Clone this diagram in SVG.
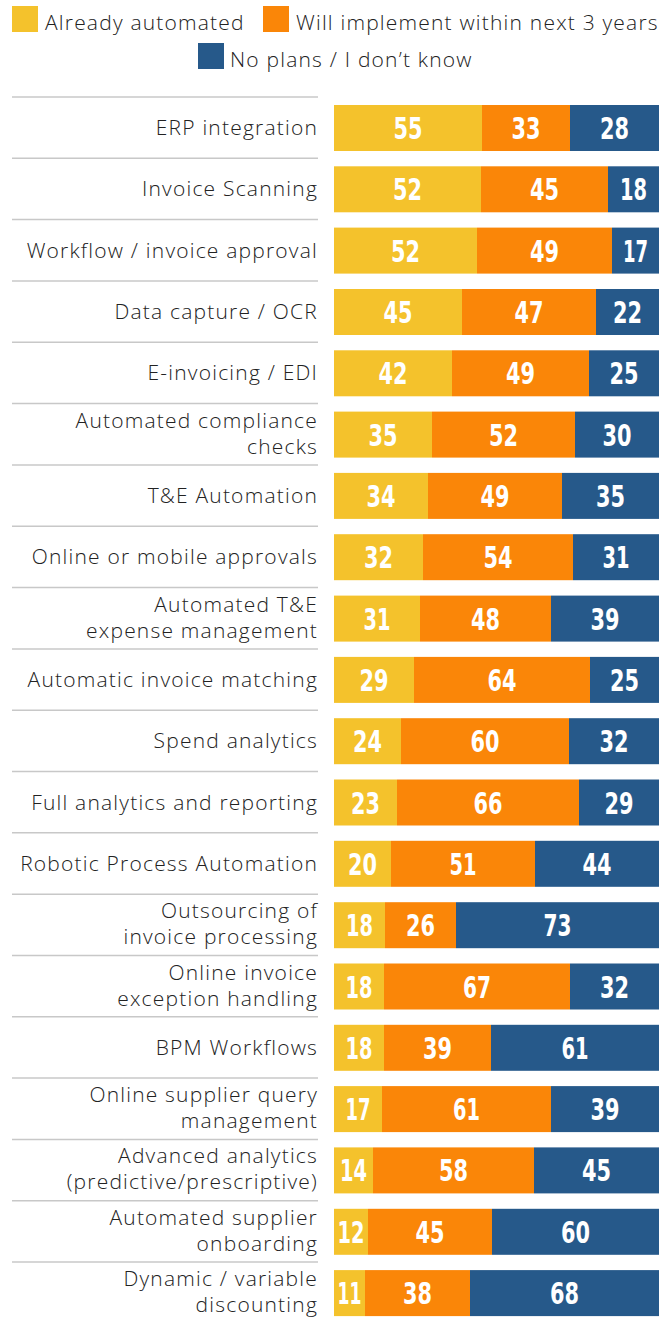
<svg xmlns="http://www.w3.org/2000/svg" width="670" height="1319" viewBox="0 0 670 1319">
<style>
.bg{fill:#ffffff}
.y{fill:#F4C22C}
.o{fill:#FA8608}
.b{fill:#26598A}
.sep{stroke:#C8C8C8;stroke-width:1.5;fill:none}
.lbl{font-family:"Open Sans","Noto Sans",sans-serif;font-size:21px;font-weight:300;letter-spacing:1.2px;fill:#222222;text-anchor:end}
.leg{font-family:"Open Sans","Noto Sans",sans-serif;font-size:21px;font-weight:300;letter-spacing:1.2px;fill:#222222}
.num{font-family:"DejaVu Sans Condensed","Liberation Sans Narrow",sans-serif;font-stretch:condensed;font-size:30px;font-weight:bold;fill:#ffffff;text-anchor:middle}
</style>
<rect class="bg" x="0" y="0" width="670" height="1319"/>
<g id="legend">
<rect class="y" x="12" y="6" width="26" height="26"/>
<text class="leg" x="45" y="30">Already automated</text>
<rect class="o" x="263" y="6" width="26" height="26"/>
<text class="leg" x="296" y="30">Will implement within next 3 years</text>
<rect class="b" x="198" y="43" width="26" height="26"/>
<text class="leg" x="230" y="67">No plans / I don’t know</text>
</g>
<g id="separators">
<line class="sep" x1="12" x2="318" y1="97" y2="97"/>
<line class="sep" x1="12" x2="318" y1="158.3" y2="158.3"/>
<line class="sep" x1="12" x2="318" y1="219.6" y2="219.6"/>
<line class="sep" x1="12" x2="318" y1="281" y2="281"/>
<line class="sep" x1="12" x2="318" y1="342.3" y2="342.3"/>
<line class="sep" x1="12" x2="318" y1="403.6" y2="403.6"/>
<line class="sep" x1="12" x2="318" y1="464.9" y2="464.9"/>
<line class="sep" x1="12" x2="318" y1="526.2" y2="526.2"/>
<line class="sep" x1="12" x2="318" y1="587.6" y2="587.6"/>
<line class="sep" x1="12" x2="318" y1="648.9" y2="648.9"/>
<line class="sep" x1="12" x2="318" y1="710.2" y2="710.2"/>
<line class="sep" x1="12" x2="318" y1="771.5" y2="771.5"/>
<line class="sep" x1="12" x2="318" y1="832.8" y2="832.8"/>
<line class="sep" x1="12" x2="318" y1="894.2" y2="894.2"/>
<line class="sep" x1="12" x2="318" y1="955.5" y2="955.5"/>
<line class="sep" x1="12" x2="318" y1="1016.8" y2="1016.8"/>
<line class="sep" x1="12" x2="318" y1="1078.1" y2="1078.1"/>
<line class="sep" x1="12" x2="318" y1="1139.4" y2="1139.4"/>
<line class="sep" x1="12" x2="318" y1="1200.8" y2="1200.8"/>
<line class="sep" x1="12" x2="318" y1="1262.1" y2="1262.1"/>
</g>
<g id="row1" transform="translate(0,105)">
<text class="lbl" x="318" y="30">ERP integration</text>
<rect class="y" x="334" y="0" width="148" height="46"/><rect class="o" x="482" y="0" width="88" height="46"/><rect class="b" x="570" y="0" width="89" height="46"/>
<text class="num" x="408" y="34" textLength="29" lengthAdjust="spacingAndGlyphs">55</text><text class="num" x="526" y="34" textLength="29" lengthAdjust="spacingAndGlyphs">33</text><text class="num" x="614.5" y="34" textLength="29" lengthAdjust="spacingAndGlyphs">28</text>
</g>
<g id="row2" transform="translate(0,166.3)">
<text class="lbl" x="318" y="30">Invoice Scanning</text>
<rect class="y" x="334" y="0" width="147" height="46"/><rect class="o" x="481" y="0" width="127" height="46"/><rect class="b" x="608" y="0" width="51" height="46"/>
<text class="num" x="407.5" y="34" textLength="29" lengthAdjust="spacingAndGlyphs">52</text><text class="num" x="544.5" y="34" textLength="29" lengthAdjust="spacingAndGlyphs">45</text><text class="num" x="633.5" y="34" textLength="27" lengthAdjust="spacingAndGlyphs">18</text>
</g>
<g id="row3" transform="translate(0,227.6)">
<text class="lbl" x="318" y="30">Workflow / invoice approval</text>
<rect class="y" x="334" y="0" width="143" height="46"/><rect class="o" x="477" y="0" width="135" height="46"/><rect class="b" x="612" y="0" width="47" height="46"/>
<text class="num" x="405.5" y="34" textLength="29" lengthAdjust="spacingAndGlyphs">52</text><text class="num" x="544.5" y="34" textLength="29" lengthAdjust="spacingAndGlyphs">49</text><text class="num" x="635.5" y="34" textLength="25" lengthAdjust="spacingAndGlyphs">17</text>
</g>
<g id="row4" transform="translate(0,289)">
<text class="lbl" x="318" y="30">Data capture / OCR</text>
<rect class="y" x="334" y="0" width="128" height="46"/><rect class="o" x="462" y="0" width="134" height="46"/><rect class="b" x="596" y="0" width="63" height="46"/>
<text class="num" x="398" y="34" textLength="29" lengthAdjust="spacingAndGlyphs">45</text><text class="num" x="529" y="34" textLength="29" lengthAdjust="spacingAndGlyphs">47</text><text class="num" x="627.5" y="34" textLength="29" lengthAdjust="spacingAndGlyphs">22</text>
</g>
<g id="row5" transform="translate(0,350.3)">
<text class="lbl" x="318" y="30">E-invoicing / EDI</text>
<rect class="y" x="334" y="0" width="118" height="46"/><rect class="o" x="452" y="0" width="137" height="46"/><rect class="b" x="589" y="0" width="70" height="46"/>
<text class="num" x="393" y="34" textLength="29" lengthAdjust="spacingAndGlyphs">42</text><text class="num" x="520.5" y="34" textLength="29" lengthAdjust="spacingAndGlyphs">49</text><text class="num" x="624" y="34" textLength="29" lengthAdjust="spacingAndGlyphs">25</text>
</g>
<g id="row6" transform="translate(0,411.6)">
<text class="lbl" x="318" y="16">Automated compliance</text><text class="lbl" x="318" y="42">checks</text>
<rect class="y" x="334" y="0" width="98" height="46"/><rect class="o" x="432" y="0" width="143" height="46"/><rect class="b" x="575" y="0" width="84" height="46"/>
<text class="num" x="383" y="34" textLength="29" lengthAdjust="spacingAndGlyphs">35</text><text class="num" x="503.5" y="34" textLength="29" lengthAdjust="spacingAndGlyphs">52</text><text class="num" x="617" y="34" textLength="29" lengthAdjust="spacingAndGlyphs">30</text>
</g>
<g id="row7" transform="translate(0,472.9)">
<text class="lbl" x="318" y="30">T&amp;E Automation</text>
<rect class="y" x="334" y="0" width="94" height="46"/><rect class="o" x="428" y="0" width="134" height="46"/><rect class="b" x="562" y="0" width="97" height="46"/>
<text class="num" x="381" y="34" textLength="29" lengthAdjust="spacingAndGlyphs">34</text><text class="num" x="495" y="34" textLength="29" lengthAdjust="spacingAndGlyphs">49</text><text class="num" x="610.5" y="34" textLength="29" lengthAdjust="spacingAndGlyphs">35</text>
</g>
<g id="row8" transform="translate(0,534.2)">
<text class="lbl" x="318" y="30">Online or mobile approvals</text>
<rect class="y" x="334" y="0" width="89" height="46"/><rect class="o" x="423" y="0" width="150" height="46"/><rect class="b" x="573" y="0" width="86" height="46"/>
<text class="num" x="378.5" y="34" textLength="29" lengthAdjust="spacingAndGlyphs">32</text><text class="num" x="498" y="34" textLength="29" lengthAdjust="spacingAndGlyphs">54</text><text class="num" x="616" y="34" textLength="27" lengthAdjust="spacingAndGlyphs">31</text>
</g>
<g id="row9" transform="translate(0,595.6)">
<text class="lbl" x="318" y="16">Automated T&amp;E</text><text class="lbl" x="318" y="42">expense management</text>
<rect class="y" x="334" y="0" width="86" height="46"/><rect class="o" x="420" y="0" width="131" height="46"/><rect class="b" x="551" y="0" width="108" height="46"/>
<text class="num" x="377" y="34" textLength="27" lengthAdjust="spacingAndGlyphs">31</text><text class="num" x="485.5" y="34" textLength="29" lengthAdjust="spacingAndGlyphs">48</text><text class="num" x="605" y="34" textLength="29" lengthAdjust="spacingAndGlyphs">39</text>
</g>
<g id="row10" transform="translate(0,656.9)">
<text class="lbl" x="318" y="30">Automatic invoice matching</text>
<rect class="y" x="334" y="0" width="80" height="46"/><rect class="o" x="414" y="0" width="176" height="46"/><rect class="b" x="590" y="0" width="69" height="46"/>
<text class="num" x="374" y="34" textLength="29" lengthAdjust="spacingAndGlyphs">29</text><text class="num" x="502" y="34" textLength="29" lengthAdjust="spacingAndGlyphs">64</text><text class="num" x="624.5" y="34" textLength="29" lengthAdjust="spacingAndGlyphs">25</text>
</g>
<g id="row11" transform="translate(0,718.2)">
<text class="lbl" x="318" y="30">Spend analytics</text>
<rect class="y" x="334" y="0" width="67" height="46"/><rect class="o" x="401" y="0" width="168" height="46"/><rect class="b" x="569" y="0" width="90" height="46"/>
<text class="num" x="367.5" y="34" textLength="29" lengthAdjust="spacingAndGlyphs">24</text><text class="num" x="485" y="34" textLength="29" lengthAdjust="spacingAndGlyphs">60</text><text class="num" x="614" y="34" textLength="29" lengthAdjust="spacingAndGlyphs">32</text>
</g>
<g id="row12" transform="translate(0,779.5)">
<text class="lbl" x="318" y="30">Full analytics and reporting</text>
<rect class="y" x="334" y="0" width="63" height="46"/><rect class="o" x="397" y="0" width="182" height="46"/><rect class="b" x="579" y="0" width="80" height="46"/>
<text class="num" x="365.5" y="34" textLength="29" lengthAdjust="spacingAndGlyphs">23</text><text class="num" x="488" y="34" textLength="29" lengthAdjust="spacingAndGlyphs">66</text><text class="num" x="619" y="34" textLength="29" lengthAdjust="spacingAndGlyphs">29</text>
</g>
<g id="row13" transform="translate(0,840.8)">
<text class="lbl" x="318" y="30">Robotic Process Automation</text>
<rect class="y" x="334" y="0" width="57" height="46"/><rect class="o" x="391" y="0" width="144" height="46"/><rect class="b" x="535" y="0" width="124" height="46"/>
<text class="num" x="362.5" y="34" textLength="29" lengthAdjust="spacingAndGlyphs">20</text><text class="num" x="463" y="34" textLength="27" lengthAdjust="spacingAndGlyphs">51</text><text class="num" x="597" y="34" textLength="29" lengthAdjust="spacingAndGlyphs">44</text>
</g>
<g id="row14" transform="translate(0,902.2)">
<text class="lbl" x="318" y="16">Outsourcing of</text><text class="lbl" x="318" y="42">invoice processing</text>
<rect class="y" x="334" y="0" width="51" height="46"/><rect class="o" x="385" y="0" width="71" height="46"/><rect class="b" x="456" y="0" width="203" height="46"/>
<text class="num" x="359.5" y="34" textLength="27" lengthAdjust="spacingAndGlyphs">18</text><text class="num" x="420.5" y="34" textLength="29" lengthAdjust="spacingAndGlyphs">26</text><text class="num" x="557.5" y="34" textLength="28" lengthAdjust="spacingAndGlyphs">73</text>
</g>
<g id="row15" transform="translate(0,963.5)">
<text class="lbl" x="318" y="16">Online invoice</text><text class="lbl" x="318" y="42">exception handling</text>
<rect class="y" x="334" y="0" width="50" height="46"/><rect class="o" x="384" y="0" width="186" height="46"/><rect class="b" x="570" y="0" width="89" height="46"/>
<text class="num" x="359" y="34" textLength="27" lengthAdjust="spacingAndGlyphs">18</text><text class="num" x="477" y="34" textLength="28" lengthAdjust="spacingAndGlyphs">67</text><text class="num" x="614.5" y="34" textLength="29" lengthAdjust="spacingAndGlyphs">32</text>
</g>
<g id="row16" transform="translate(0,1024.8)">
<text class="lbl" x="318" y="30">BPM Workflows</text>
<rect class="y" x="334" y="0" width="50" height="46"/><rect class="o" x="384" y="0" width="107" height="46"/><rect class="b" x="491" y="0" width="168" height="46"/>
<text class="num" x="359" y="34" textLength="27" lengthAdjust="spacingAndGlyphs">18</text><text class="num" x="437.5" y="34" textLength="29" lengthAdjust="spacingAndGlyphs">39</text><text class="num" x="575" y="34" textLength="27" lengthAdjust="spacingAndGlyphs">61</text>
</g>
<g id="row17" transform="translate(0,1086.1)">
<text class="lbl" x="318" y="16">Online supplier query</text><text class="lbl" x="318" y="42">management</text>
<rect class="y" x="334" y="0" width="48" height="46"/><rect class="o" x="382" y="0" width="169" height="46"/><rect class="b" x="551" y="0" width="108" height="46"/>
<text class="num" x="358" y="34" textLength="25" lengthAdjust="spacingAndGlyphs">17</text><text class="num" x="466.5" y="34" textLength="27" lengthAdjust="spacingAndGlyphs">61</text><text class="num" x="605" y="34" textLength="29" lengthAdjust="spacingAndGlyphs">39</text>
</g>
<g id="row18" transform="translate(0,1147.4)">
<text class="lbl" x="318" y="16">Advanced analytics</text><text class="lbl" x="318" y="42">(predictive/prescriptive)</text>
<rect class="y" x="334" y="0" width="39" height="46"/><rect class="o" x="373" y="0" width="161" height="46"/><rect class="b" x="534" y="0" width="125" height="46"/>
<text class="num" x="353.5" y="34" textLength="27" lengthAdjust="spacingAndGlyphs">14</text><text class="num" x="453.5" y="34" textLength="29" lengthAdjust="spacingAndGlyphs">58</text><text class="num" x="596.5" y="34" textLength="29" lengthAdjust="spacingAndGlyphs">45</text>
</g>
<g id="row19" transform="translate(0,1208.8)">
<text class="lbl" x="318" y="16">Automated supplier</text><text class="lbl" x="318" y="42">onboarding</text>
<rect class="y" x="334" y="0" width="34" height="46"/><rect class="o" x="368" y="0" width="124" height="46"/><rect class="b" x="492" y="0" width="167" height="46"/>
<text class="num" x="351" y="34" textLength="27" lengthAdjust="spacingAndGlyphs">12</text><text class="num" x="430" y="34" textLength="29" lengthAdjust="spacingAndGlyphs">45</text><text class="num" x="575.5" y="34" textLength="29" lengthAdjust="spacingAndGlyphs">60</text>
</g>
<g id="row20" transform="translate(0,1270.1)">
<text class="lbl" x="318" y="16">Dynamic / variable</text><text class="lbl" x="318" y="42">discounting</text>
<rect class="y" x="334" y="0" width="31" height="46"/><rect class="o" x="365" y="0" width="105" height="46"/><rect class="b" x="470" y="0" width="189" height="46"/>
<text class="num" x="349.5" y="34" textLength="24" lengthAdjust="spacingAndGlyphs">11</text><text class="num" x="417.5" y="34" textLength="29" lengthAdjust="spacingAndGlyphs">38</text><text class="num" x="564.5" y="34" textLength="29" lengthAdjust="spacingAndGlyphs">68</text>
</g>
</svg>
